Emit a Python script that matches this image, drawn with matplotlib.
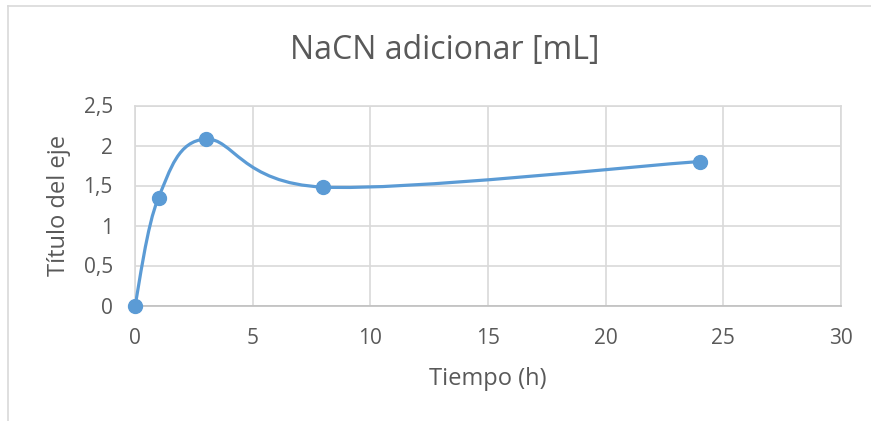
import matplotlib.pyplot as plt
from matplotlib.path import Path
from matplotlib.patches import PathPatch
from matplotlib.lines import Line2D

plt.rcParams['font.family'] = ['Open Sans', 'DejaVu Sans']

# NaCN volume added over time
tiempo = [0, 1, 3, 8, 24]
nacn_ml = [0, 1.35, 2.08, 1.48, 1.8]
x_ticks = [0, 5, 10, 15, 20, 25, 30]
y_ticks = [0, 0.5, 1, 1.5, 2, 2.5]
y_tick_labels = ['0', '0,5', '1', '1,5', '2', '2,5']

blue = '#5b9bd5'
grid = '#d9d9d9'
text_col = '#595959'


def smooth_path(xs, ys):
    # Catmull-Rom style cubic Bezier through every point (spreadsheet "smoothed line")
    pts = list(zip(xs, ys))
    verts = [pts[0]]
    codes = [Path.MOVETO]
    n = len(pts)
    for i in range(n - 1):
        p0 = pts[max(i - 1, 0)]
        p1 = pts[i]
        p2 = pts[i + 1]
        p3 = pts[min(i + 2, n - 1)]
        c1 = (p1[0] + (p2[0] - p0[0]) / 6, p1[1] + (p2[1] - p0[1]) / 6)
        c2 = (p2[0] - (p3[0] - p1[0]) / 6, p2[1] - (p3[1] - p1[1]) / 6)
        verts += [c1, c2, p2]
        codes += [Path.CURVE4] * 3
    return Path(verts, codes)


fig = plt.figure(figsize=(8.71, 4.21), dpi=100)
ax = fig.add_axes([135 / 871, 1 - 305.5 / 421, 706 / 871, 200 / 421])

ax.add_patch(PathPatch(smooth_path(tiempo, nacn_ml), facecolor='none',
                       edgecolor=blue, lw=2.3, capstyle='round', zorder=3))
ax.plot(tiempo, nacn_ml, 'o', color=blue, ms=10, zorder=4, clip_on=False)

ax.set_xlim(0, 30)
ax.set_ylim(0, 2.5)
ax.set_xticks(x_ticks)
ax.set_yticks(y_ticks)
ax.set_yticklabels(y_tick_labels)
ax.grid(True, color=grid, lw=1.2)
ax.set_axisbelow(True)
for side in ax.spines.values():
    side.set_color(grid)
    side.set_linewidth(1.2)
ax.spines['bottom'].set_color('#bfbfbf')
ax.tick_params(length=0, labelsize=15, labelcolor=text_col)
ax.tick_params(axis='x', pad=16)
ax.tick_params(axis='y', pad=16)

ax.set_xlabel('Tiempo (h)', fontsize=17, color=text_col, labelpad=13)
ax.set_ylabel('Título del eje', fontsize=17, color=text_col, labelpad=9)
fig.text(445 / 871, 1 - 50 / 421, 'NaCN adicionar [mL]', ha='center', va='center',
         fontsize=23, color=text_col)

# chart frame
fig.add_artist(Line2D([8 / 871, 8 / 871], [0, 1 - 6 / 421], color='#d9d9d9', lw=1.2))
fig.add_artist(Line2D([8 / 871, 1], [1 - 6 / 421, 1 - 6 / 421], color='#d9d9d9', lw=1.2))

fig.savefig('out.png', dpi=100)
